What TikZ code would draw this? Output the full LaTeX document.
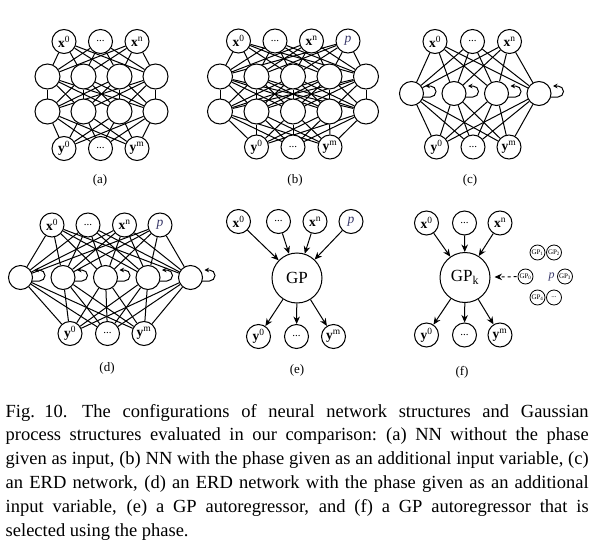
\documentclass[tikz,border=0pt]{standalone}
\usepackage{fontspec}
\setmainfont{Liberation Serif}
\usetikzlibrary{arrows.meta,backgrounds}
\definecolor{phasecol}{RGB}{55,55,105}
\newcommand{\lxz}{\textbf{x}\textsuperscript{0}}
\newcommand{\lxn}{\textbf{x}\textsuperscript{n}}
\newcommand{\lyz}{\textbf{y}\textsuperscript{0}}
\newcommand{\lym}{\textbf{y}\textsuperscript{m}}
\newcommand{\ldts}{\fontsize{11}{11}\selectfont ...}
\newcommand{\lph}{\textcolor{phasecol}{\textit{p}}}
\newcommand{\capline}[1]{\hbox to 583pt{#1}}
\tikzset{
  nn/.style={circle,draw,line width=1pt,minimum size=24pt,inner sep=0pt,fill=white,
             font=\fontsize{13.5}{13.5}\selectfont},
  hid/.style={nn,minimum size=25pt},
  gpbig/.style={nn,minimum size=50pt,font=\fontsize{17}{17}\selectfont},
  gpsmall/.style={nn,minimum size=15pt,line width=0.8pt,font=\fontsize{7}{7}\selectfont},
  conn/.style={line width=1pt},
  arr/.style={line width=1pt,-{Stealth[length=7.5pt,width=6.5pt]}},
  looparr/.style={line width=1pt,-{Stealth[length=4.5pt,width=4.5pt]}},
  sublabel/.style={font=\fontsize{13}{13}\selectfont},
}
\newcommand{\selfloop}[1]{\draw[looparr] ([shift={(11.5,3.5)}]#1.center) -- ++(7.5,0)
   arc[start angle=-90,end angle=90,radius=5.5pt] -- ++(-5,0);}
\begin{document}
\begin{tikzpicture}[x=1pt,y=-1pt]
\useasboundingbox (0,0) rectangle (595,554);
% ---------------- (a)
\node[nn] (a-i1) at (64,41.5) {\lxz};
\node[nn] (a-i2) at (100.5,41.5) {\ldts};
\node[nn] (a-i3) at (137,41.5) {\lxn};
\foreach \x [count=\i] in {47.5,83.5,119.5,155.5} {
  \node[hid] (a-h\i) at (\x,76.5) {};
  \node[hid] (a-g\i) at (\x,111.5) {};
}
\node[nn] (a-o1) at (64,148.5) {\lyz};
\node[nn] (a-o2) at (100.5,148.5) {\ldts};
\node[nn] (a-o3) at (137,148.5) {\lym};
\node[sublabel] (a-lab) at (100,180) {(a)};
\begin{scope}[on background layer]
\foreach \i in {1,2,3} \foreach \j in {1,...,4} {
  \draw[conn] (a-i\i) -- (a-h\j);
  \draw[conn] (a-g\j) -- (a-o\i);
}
\foreach \i in {1,...,4} \foreach \j in {1,...,4} \draw[conn] (a-h\i) -- (a-g\j);
\end{scope}
% ---------------- (b)
\node[nn] (b-i1) at (238.5,41) {\lxz};
\node[nn] (b-i2) at (275,41) {\ldts};
\node[nn] (b-i3) at (311.5,41) {\lxn};
\node[nn] (b-i4) at (348,41) {\lph};
\foreach \x [count=\i] in {220,256.5,293,329.5,366} {
  \node[hid] (b-h\i) at (\x,76.5) {};
  \node[hid] (b-g\i) at (\x,111.5) {};
}
\node[nn] (b-o1) at (256.5,147) {\lyz};
\node[nn] (b-o2) at (293,147) {\ldts};
\node[nn] (b-o3) at (330,147) {\lym};
\node[sublabel] (b-lab) at (295,180) {(b)};
\begin{scope}[on background layer]
\foreach \i in {1,...,4} \foreach \j in {1,...,5} \draw[conn] (b-i\i) -- (b-h\j);
\foreach \i in {1,2,3} \foreach \j in {1,...,5} \draw[conn] (b-g\j) -- (b-o\i);
\foreach \i in {1,...,5} \foreach \j in {1,...,5} \draw[conn] (b-h\i) -- (b-g\j);
\end{scope}
% ---------------- (c)
\node[nn] (c-i1) at (435,41.5) {\lxz};
\node[nn] (c-i2) at (472.5,41.5) {\ldts};
\node[nn] (c-i3) at (509.5,41.5) {\lxn};
\foreach \x [count=\i] in {411.5,454,496.5,539} {
  \node[nn] (c-h\i) at (\x,93.5) {};
  \selfloop{c-h\i}
}
\node[nn] (c-o1) at (436.5,147) {\lyz};
\node[nn] (c-o2) at (473,147) {\ldts};
\node[nn] (c-o3) at (509,147) {\lym};
\node[sublabel] (c-lab) at (470,180) {(c)};
\begin{scope}[on background layer]
\foreach \i in {1,2,3} \foreach \j in {1,...,4} {
  \draw[conn] (c-i\i) -- (c-h\j);
  \draw[conn] (c-h\j) -- (c-o\i);
}
\end{scope}
% ---------------- (d)
\node[nn] (d-i1) at (52,225) {\lxz};
\node[nn] (d-i2) at (88,225) {\ldts};
\node[nn] (d-i3) at (124.5,225) {\lxn};
\node[nn] (d-i4) at (160,225) {\lph};
\foreach \x [count=\i] in {20.5,63,105.5,148,190.5} {
  \node[nn] (d-h\i) at (\x,277.5) {};
  \selfloop{d-h\i}
}
\node[nn] (d-o1) at (70,333.5) {\lyz};
\node[nn] (d-o2) at (107.5,333.5) {\ldts};
\node[nn] (d-o3) at (144,333.5) {\lym};
\node[sublabel] (d-lab) at (107,368) {(d)};
\begin{scope}[on background layer]
\foreach \i in {1,...,4} \foreach \j in {1,...,5} \draw[conn] (d-i\i) -- (d-h\j);
\foreach \i in {1,2,3} \foreach \j in {1,...,5} \draw[conn] (d-h\j) -- (d-o\i);
\end{scope}
% ---------------- (e)
\node[nn] (e-i1) at (238.5,221.5) {\lxz};
\node[nn] (e-i2) at (278.5,221.5) {\ldts};
\node[nn] (e-i3) at (315,221.5) {\lxn};
\node[nn] (e-i4) at (351,221.5) {\lph};
\node[gpbig] (e-gp) at (297,278) {GP};
\node[nn] (e-o1) at (258.5,336.5) {\lyz};
\node[nn] (e-o2) at (296.5,336.5) {\ldts};
\node[nn] (e-o3) at (333.5,336.5) {\lym};
\node[sublabel] (e-lab) at (297,370) {(e)};
\foreach \i in {1,...,4} \draw[arr] (e-i\i) -- (e-gp);
\foreach \i in {1,2,3} \draw[arr] (e-gp) -- (e-o\i);
% ---------------- (f)
\node[nn] (f-i1) at (426.5,223) {\lxz};
\node[nn] (f-i2) at (464.5,223) {\ldts};
\node[nn] (f-i3) at (500,223) {\lxn};
\node[gpbig] (f-gp) at (465,277.5) {GP\textsubscript{k}};
\node[nn] (f-o1) at (426.5,335) {\lyz};
\node[nn] (f-o2) at (464.5,335) {\ldts};
\node[nn] (f-o3) at (500,335) {\lym};
\node[sublabel] (f-lab) at (462,372) {(f)};
\foreach \i in {1,2,3} {
  \draw[arr] (f-i\i) -- (f-gp);
  \draw[arr] (f-gp) -- (f-o\i);
}
\node[gpsmall] (f-c1) at (537.5,252.5) {GP\textsubscript{1}};
\node[gpsmall] (f-c2) at (554,252.5) {GP\textsubscript{2}};
\node[gpsmall] (f-c0) at (525.5,276.5) {GP\textsubscript{0}};
\node[gpsmall] (f-c3) at (565,276.5) {GP\textsubscript{3}};
\node[gpsmall] (f-c4) at (537.5,297.5) {GP\textsubscript{4}};
\node[gpsmall] (f-c5) at (554,297.5) {...};
\node[font=\fontsize{12}{12}\selectfont] (f-p) at (551.5,277) {\lph};
\draw[arr,dashed,shorten >=4pt,shorten <=1pt] (f-c0) -- (f-gp);
% ---------------- caption
\node[anchor=base west,inner sep=0pt,text width=583pt,
      font=\fontsize{18.5}{23.8}\selectfont] (cap) at (5.5,417) {%
\spaceskip=0.25em plus 0.3em minus 0.1em
\capline{Fig. 10.\hskip 0.8em The configurations of neural network structures and Gaussian}
\capline{process structures evaluated in our comparison: (a) NN without the phase}
\capline{given as input, (b) NN with the phase given as an additional input variable, (c)}
\capline{an ERD network, (d) an ERD network with the phase given as an additional}
\capline{input variable, (e) a GP autoregressor, and (f) a GP autoregressor that is}
selected using the phase.};
\end{tikzpicture}
\end{document}
